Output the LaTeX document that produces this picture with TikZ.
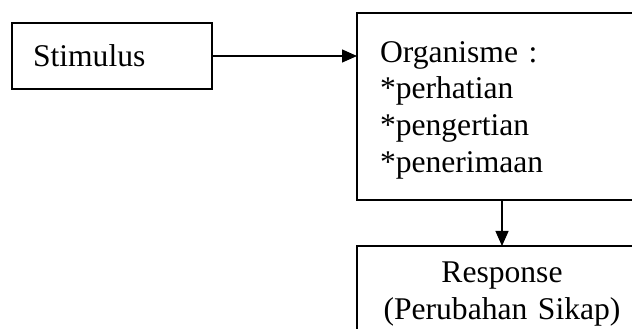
\documentclass[tikz,border=0pt]{standalone}
\usepackage{fontspec}
\setmainfont{Liberation Serif}
\usetikzlibrary{arrows.meta,positioning,calc}
\definecolor{figInk}{HTML}{000000}

\begin{document}
\begin{tikzpicture}[x=1pt,y=1pt,>={Triangle[length=15pt,width=13pt]},
  font=\fontsize{31.6}{36.7}\selectfont,
  box/.style={draw=figInk,line width=2pt,align=left,inner xsep=#1,outer sep=0pt},
  link/.style={->,draw=figInk,line width=1.3pt}
]
  \useasboundingbox (0,0) rectangle (632,329);

  \node[box=21pt,text width=158pt,minimum height=66pt,anchor=north west] (stim) at (12,306)
    {Stimulus};
  \node[box=23pt,text width=254pt,minimum height=187pt,text height=28pt,anchor=north west] (org) at (357,316)
    {Organisme :\\{}*perhatian\\{}*pengertian\\{}*penerimaan};
  \node[box=0pt,text width=290pt,align=center,inner ysep=16pt,anchor=north] (resp) at (502,83)
    {Response\\(Perubahan Sikap)};

  \draw[link] (stim.east) -- (stim.east -| org.west);
  \draw[link] (resp.north |- org.south) -- (resp.north);
\end{tikzpicture}
\end{document}
